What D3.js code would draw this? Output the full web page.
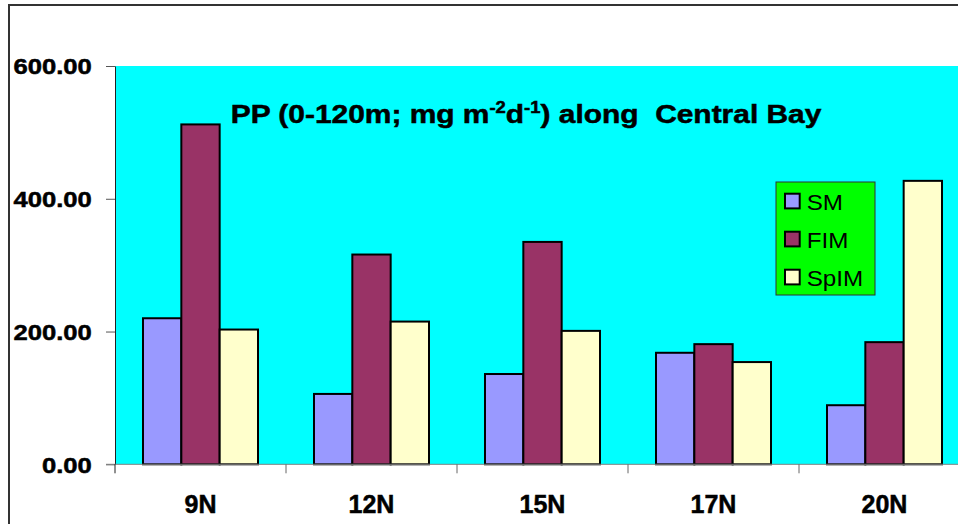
<!DOCTYPE html>
<html>
<head>
<meta charset="utf-8">
<script src="https://cdn.jsdelivr.net/npm/d3@7"></script>
<style>
  html, body { margin: 0; padding: 0; background: #fff; }
  svg { display: block; }
  text { font-family: "Liberation Sans", Arial, sans-serif; }
  .heavy { stroke: #000; stroke-width: 0.5px; paint-order: stroke; }
</style>
</head>
<body>
<svg id="chart" width="958" height="524"></svg>
<script>
// Primary production (0-120 m) at stations along the central Bay, three seasons
const categories = ["9N", "12N", "15N", "17N", "20N"];
const seriesNames = ["SM", "FIM", "SpIM"];
const SM   = [220, 106, 136, 168, 89];
const FIM  = [512, 316, 335, 181, 184];
const SpIM = [203, 215, 201, 154, 427];
const yTicks = [0, 200, 400, 600];
const seriesColors = ["#9999FF", "#993366", "#FFFFCC"];

const valuesBySeries = { SM: SM, FIM: FIM, SpIM: SpIM };

const svg = d3.select("#chart");

// plot frame
const plot = { left: 115, right: 970, top: 66, bottom: 464.3 };

const x = d3.scaleBand().domain(categories).range([plot.left, plot.right]).padding(0);
const bw = x.bandwidth();
const x1 = d3.scaleBand().domain(seriesNames).range([bw * 28 / 171, bw * 143 / 171]).padding(0);
const y = d3.scaleLinear().domain([0, 600]).range([plot.bottom, plot.top]);
const color = d3.scaleOrdinal().domain(seriesNames).range(seriesColors);

// outer chart border
svg.append("rect")
  .attr("x", 9).attr("y", 5)
  .attr("width", 1200).attr("height", 800)
  .attr("fill", "#fff")
  .attr("stroke", "#333").attr("stroke-width", 2);

// plot background
svg.append("rect")
  .attr("x", plot.left).attr("y", plot.top)
  .attr("width", plot.right - plot.left).attr("height", plot.bottom - plot.top)
  .attr("fill", "#00FFFF");

// bars
const rows = categories.map((c, i) => ({
  cat: c,
  vals: seriesNames.map(s => ({ key: s, value: valuesBySeries[s][i] }))
}));

svg.append("g").selectAll("g")
  .data(rows)
  .join("g")
  .attr("transform", d => `translate(${x(d.cat)},0)`)
  .selectAll("rect")
  .data(d => d.vals)
  .join("rect")
  .attr("x", d => x1(d.key))
  .attr("y", d => y(d.value))
  .attr("width", x1.bandwidth())
  .attr("height", d => y(0) - y(d.value))
  .attr("fill", d => color(d.key))
  .attr("stroke", "#000")
  .attr("stroke-width", 2);

// y axis
const yAxis = svg.append("g")
  .attr("transform", `translate(${plot.left},0)`)
  .call(d3.axisLeft(y).tickValues(yTicks).tickFormat(d3.format(".2f")).tickSize(9).tickSizeOuter(0));
yAxis.select(".domain").attr("stroke", "#222");
yAxis.selectAll(".tick line").attr("stroke", "#555");
yAxis.selectAll(".tick text")
  .attr("class", "heavy")
  .attr("x", 0).attr("dy", "0.36em")
  .attr("transform", "translate(-23.3,0) scale(1.19,1)")
  .attr("fill", "#000")
  .style("font-size", "21.5px")
  .style("font-weight", "bold")
  .attr("text-anchor", "end");

// x axis
const xAxis = svg.append("g")
  .attr("transform", `translate(0,${plot.bottom})`)
  .call(d3.axisBottom(x).tickSize(0).tickSizeOuter(0));
xAxis.select(".domain").attr("stroke", "#808080").attr("d", `M${plot.left - 9},0H${plot.right}`);
xAxis.selectAll(".tick text")
  .attr("class", "heavy")
  .attr("y", 49).attr("dy", 0)
  .attr("fill", "#000")
  .style("font-size", "25px")
  .style("font-weight", "bold");

// category boundary ticks
xAxis.append("g").selectAll("line")
  .data(categories)
  .join("line")
  .attr("x1", d => x(d)).attr("x2", d => x(d))
  .attr("y1", 0).attr("y2", 9)
  .attr("stroke", d => d === categories[0] ? "#222" : "#666")
  .attr("stroke-width", 1);

// title
const title = svg.append("text")
  .attr("class", "heavy")
  .attr("y", 122.7)
  .attr("fill", "#000")
  .style("font-size", "26px")
  .style("font-weight", "bold");
title.append("tspan").text("PP (0-120m; mg m");
title.append("tspan").attr("dy", -10).style("font-size", "16px").text("-2");
title.append("tspan").attr("dy", 10).text("d");
title.append("tspan").attr("dy", -10).style("font-size", "16px").text("-1");
title.append("tspan").attr("dy", 10).text(")\u00A0along\u00A0\u00A0Central Bay");
const tw = title.node().getComputedTextLength();
title.attr("transform", `translate(230.7,0) scale(${591 / tw},1)`);

// legend
const legend = svg.append("g");
legend.append("rect")
  .attr("x", 776).attr("y", 182)
  .attr("width", 99).attr("height", 113)
  .attr("fill", "#00FF00")
  .attr("stroke", "#333").attr("stroke-width", 1);

const items = legend.selectAll("g.item")
  .data(seriesNames)
  .join("g")
  .attr("class", "item")
  .attr("transform", (d, i) => `translate(0,${201 + i * 38})`);
items.append("rect")
  .attr("x", 785).attr("y", -7.3)
  .attr("width", 14.7).attr("height", 14.7)
  .attr("fill", d => color(d))
  .attr("stroke", "#000").attr("stroke-width", 2);
items.append("text")
  .attr("transform", "translate(806.7,8.6) scale(1.1,1)")
  .attr("fill", "#000")
  .style("font-size", "22px")
  .text(d => d);
</script>
</body>
</html>
